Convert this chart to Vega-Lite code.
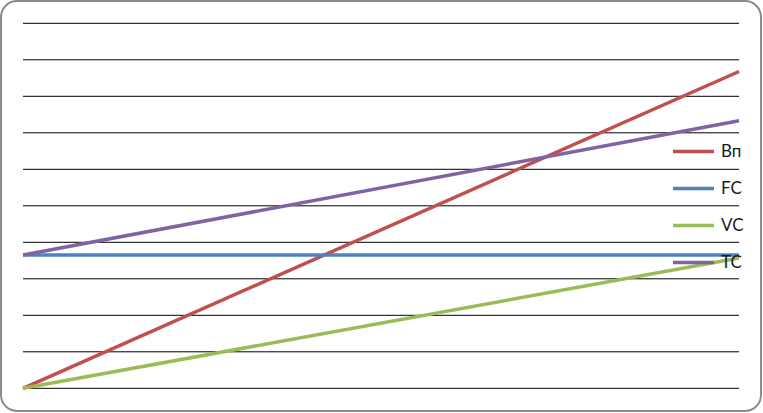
{
  "$schema": "https://vega.github.io/schema/vega-lite/v6.json",
  "autosize": "none",
  "padding": 1,
  "width": 760,
  "height": 410,
  "background": "white",
  "config": {
    "view": {"stroke": "#8c8c8c", "strokeWidth": 2, "cornerRadius": 16, "fill": "white"},
    "font": "Lato"
  },
  "datasets": {
    "grid": [{"g": 0}, {"g": 1}, {"g": 2}, {"g": 3}, {"g": 4}, {"g": 5}, {"g": 6}, {"g": 7}, {"g": 8}, {"g": 9}, {"g": 10}],
    "lines": [
      {"series": "Вп", "x": 0, "y": 0},
      {"series": "Вп", "x": 10, "y": 8.68},
      {"series": "FC", "x": 0, "y": 3.65},
      {"series": "FC", "x": 10, "y": 3.65},
      {"series": "VC", "x": 0, "y": 0},
      {"series": "VC", "x": 10, "y": 3.57},
      {"series": "TC", "x": 0, "y": 3.65},
      {"series": "TC", "x": 10, "y": 7.33}
    ]
  },
  "layer": [
    {
      "data": {"name": "grid"},
      "mark": {"type": "rule", "color": "black", "strokeWidth": 1},
      "encoding": {
        "y": {"field": "g", "type": "quantitative", "scale": {"domain": [-0.622, 10.611], "nice": false, "zero": false}, "axis": null},
        "x": {"datum": 0, "type": "quantitative", "scale": {"domain": [-0.3073, 10.307], "nice": false, "zero": false}, "axis": null},
        "x2": {"datum": 10}
      }
    },
    {
      "data": {"name": "lines"},
      "mark": {"type": "line", "strokeWidth": 3.5},
      "encoding": {
        "x": {"field": "x", "type": "quantitative", "axis": null},
        "y": {"field": "y", "type": "quantitative", "axis": null},
        "color": {
          "field": "series",
          "type": "nominal",
          "scale": {"domain": ["Вп", "FC", "VC", "TC"], "range": ["#C0504D", "#4F81BD", "#9BBB59", "#8064A2"]},
          "legend": {
            "title": null,
            "orient": "none",
            "legendX": 670,
            "legendY": 128,
            "symbolType": "stroke",
            "symbolSize": 1681,
            "symbolStrokeWidth": 3.5,
            "labelFontSize": 17,
            "labelColor": "#1a1a1a",
            "labelOffset": 5,
            "rowPadding": 6,
            "padding": 0
          }
        }
      }
    }
  ]
}
